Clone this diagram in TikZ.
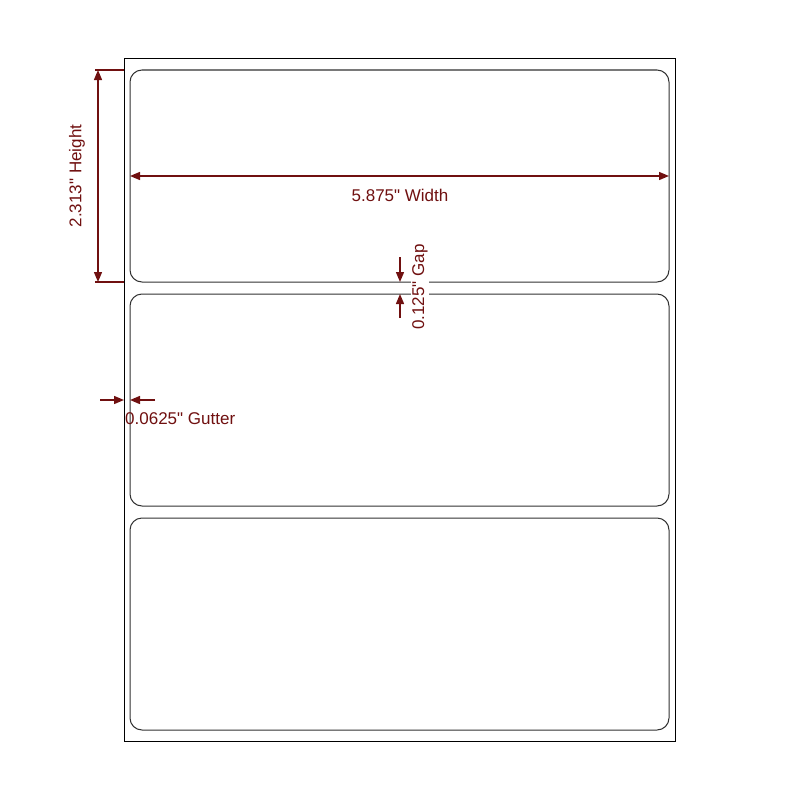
\documentclass[tikz,border=0pt]{standalone}
\usepackage{fontspec}
\setmainfont{Liberation Sans}[Ligatures=TeXOff]
\usetikzlibrary{arrows.meta}
\definecolor{dimred}{RGB}{112,16,16}
\definecolor{lblgray}{RGB}{50,50,50}
\tikzset{
  sheetbox/.style={draw=black,line width=0.9pt,minimum width=551pt,minimum height=683pt,inner sep=0pt},
  labelbox/.style={draw=lblgray,line width=1pt,rounded corners=12pt,minimum width=539pt,minimum height=212pt,inner sep=0pt},
  tipa/.tip={Triangle[length=10pt 0 0,width=8pt 0 0]},
  dimline/.style={draw=dimred,line width=1.4pt,-tipa},
  dimboth/.style={draw=dimred,line width=1.4pt,tipa-tipa},
  extline/.style={draw=dimred,line width=1.4pt},
  dimtext/.style={text=dimred,font=\fontsize{17}{20}\selectfont,inner sep=1pt}
}
\begin{document}
\begin{tikzpicture}[x=1pt,y=-1pt]
\useasboundingbox[fill=white] (0,0) rectangle (800,800);
\node[sheetbox] (sheet) at (399.5,399.5) {};
\node[labelbox] (l1) at (399.5,176) {};
\node[labelbox] (l2) at (399.5,400) {};
\node[labelbox] (l3) at (399.5,624) {};
% width
\coordinate (wl) at (130,176);
\coordinate (wr) at (669,176);
\draw[dimboth] (wl) -- (wr);
\node[dimtext] (wtext) at (400,195) {5.875" Width};
% height
\coordinate (ht) at (98,70);
\coordinate (hb) at (98,282);
\coordinate (he1) at (95,70);
\coordinate (he1e) at (124,70);
\coordinate (he2) at (95,282);
\coordinate (he2e) at (124,282);
\draw[extline] (he1) -- (he1e);
\draw[extline] (he2) -- (he2e);
\draw[dimboth] (ht) -- (hb);
\node[dimtext,rotate=90] (htext) at (77,176) {2.313" Height};
% gap
\coordinate (g1s) at (400,257);
\coordinate (g1e) at (400,282);
\coordinate (g2s) at (400,318);
\coordinate (g2e) at (400,294);
\draw[dimline] (g1s) -- (g1e);
\draw[dimline] (g2s) -- (g2e);
\node[dimtext,rotate=90,fill=white,inner sep=1.5pt] (gtext) at (420,287) {0.125" Gap};
% gutter
\coordinate (u1s) at (100,400);
\coordinate (u1e) at (124,400);
\coordinate (u2s) at (155,400);
\coordinate (u2e) at (130,400);
\draw[dimline] (u1s) -- (u1e);
\draw[dimline] (u2s) -- (u2e);
\node[dimtext,anchor=west] (utext) at (124,419) {0.0625" Gutter};
\end{tikzpicture}
\end{document}
